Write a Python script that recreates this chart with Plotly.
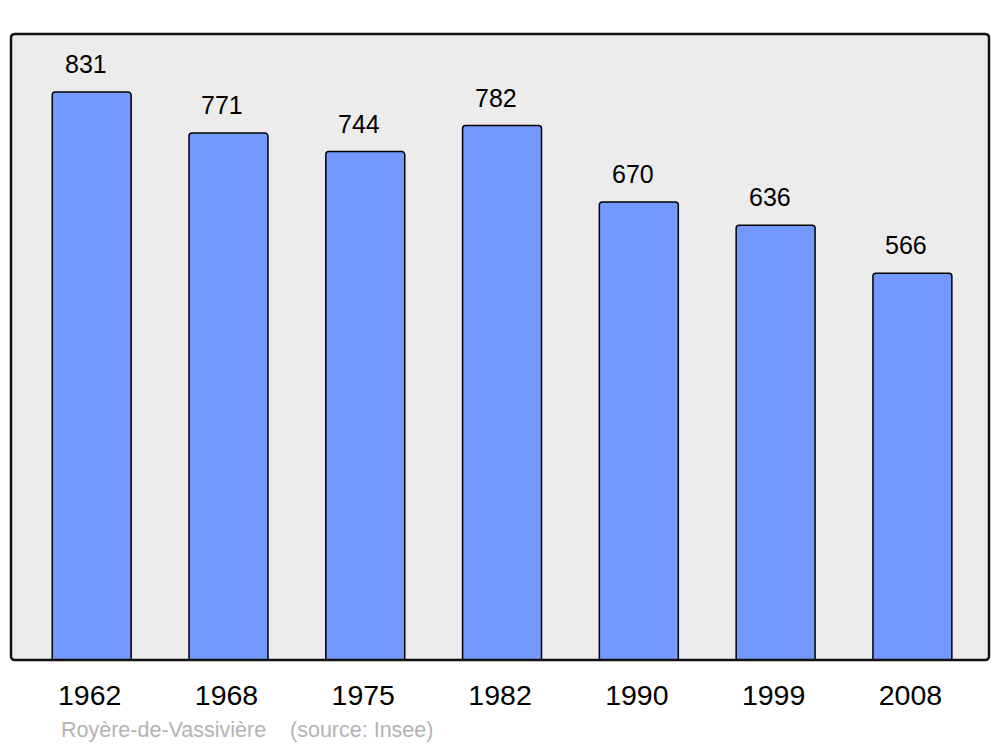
import plotly.graph_objects as go

years = ["1962", "1968", "1975", "1982", "1990", "1999", "2008"]
population = [831, 771, 744, 782, 670, 636, 566]
footer_text = "Royère-de-Vassivière    (source: Insee)"

fig = go.Figure()
fig.add_trace(go.Bar(
    x=years, y=population,
    marker=dict(color="#7399ff", line=dict(color="#000000", width=1.5), cornerradius=3),
    hoverinfo="skip",
))

for i, v in enumerate(population):
    fig.add_annotation(x=i, y=v, text=str(v), showarrow=False, yanchor="bottom",
                       yshift=12, xshift=-6, font=dict(family="Liberation Sans", size=25, color="#000000"))

fig.add_annotation(xref="paper", yref="paper", x=0.049, y=-0.112, xanchor="left", yanchor="middle",
                   text=footer_text, showarrow=False,
                   font=dict(family="Liberation Sans", size=21.5, color="#b3b3b3"))

rx, ry = 4 / 978, 4 / 626
path = (f"M {rx},0 L {1-rx},0 Q 1,0 1,{ry} L 1,{1-ry} Q 1,1 {1-rx},1 "
        f"L {rx},1 Q 0,1 0,{1-ry} L 0,{ry} Q 0,0 {rx},0 Z")
fig.add_shape(type="path", xref="paper", yref="paper", path=path,
              line=dict(color="#111111", width=2.5), layer="above")

fig.update_layout(
    width=1000, height=747,
    margin=dict(l=11, r=11, t=34, b=87),
    paper_bgcolor="#ffffff", plot_bgcolor="#ececec",
    bargap=0.423, showlegend=False,
    xaxis=dict(type="category", range=[-0.59, 6.56], showgrid=False, zeroline=False,
               ticks="outside", ticklen=10, tickcolor="rgba(0,0,0,0)", ticklabelshift=-2,
               tickfont=dict(family="Liberation Sans", size=28.5, color="#000000")),
    yaxis=dict(range=[0, 916], showgrid=False, zeroline=False, showticklabels=False, ticks=""),
)

fig.write_html("out.html", config={"displayModeBar": False},
               post_script="document.body.style.margin='0';document.body.style.overflow='hidden';")
